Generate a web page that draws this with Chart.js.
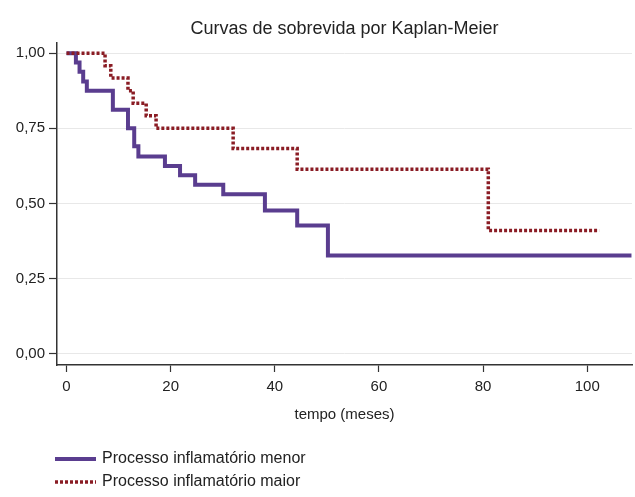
<!DOCTYPE html>
<html>
<head>
<meta charset="utf-8">
<script src="https://cdn.jsdelivr.net/npm/chart.js@4"></script>
<style>
  html, body { margin: 0; padding: 0; background: #fff; }
  #c { display: block; }
</style>
</head>
<body>
<canvas id="c" width="635" height="497"></canvas>
<script>
// ---- Data ----
const seriesLabels = ['Processo inflamatório menor', 'Processo inflamatório maior'];
const menorTimes = [0, 1.8, 2.5, 3.2, 3.9, 8.9, 11.8, 13.0, 13.8, 18.9, 21.8, 24.7, 30.1, 38.1, 44.3, 50.2, 108.5];
const menorSurv  = [1.0, 0.969, 0.938, 0.906, 0.875, 0.812, 0.75, 0.69, 0.656, 0.625, 0.594, 0.562, 0.531, 0.477, 0.427, 0.327, 0.327];
const maiorTimes = [0, 7.4, 8.5, 11.8, 12.8, 15.3, 17.2, 32.0, 44.3, 81.0, 102.3];
const maiorSurv  = [1.0, 0.958, 0.917, 0.875, 0.833, 0.792, 0.75, 0.683, 0.614, 0.41, 0.41];
const xTickValues = [0, 20, 40, 60, 80, 100];
const yTickValues = [0, 0.25, 0.5, 0.75, 1.0];
const chartTitle = 'Curvas de sobrevida por Kaplan-Meier';
const xAxisTitle = 'tempo (meses)';

const toPoints = (xs, ys) => xs.map((x, i) => ({ x: x, y: ys[i] }));
const FONT = "'Liberation Sans', Arial, Helvetica, sans-serif";
const fmt = v => v.toFixed(2).replace('.', ',');

const customLegend = {
  id: 'customLegend',
  afterDraw(chart) {
    const ctx = chart.ctx;
    const rows = [459, 482];
    chart.data.datasets.forEach((ds, i) => {
      const y = rows[i];
      ctx.save();
      ctx.strokeStyle = ds.borderColor;
      ctx.lineWidth = ds.borderWidth;
      ctx.setLineDash(ds.borderDash || []);
      ctx.beginPath();
      ctx.moveTo(55, y);
      ctx.lineTo(96, y);
      ctx.stroke();
      ctx.setLineDash([]);
      ctx.fillStyle = '#222';
      ctx.font = '16px ' + FONT;
      ctx.textBaseline = 'middle';
      ctx.textAlign = 'left';
      ctx.fillText(ds.label, 102, y);
      ctx.restore();
    });
  }
};

new Chart(document.getElementById('c'), {
  type: 'line',
  data: {
    datasets: [
      {
        label: seriesLabels[0],
        data: toPoints(menorTimes, menorSurv),
        stepped: 'before',
        borderColor: '#5a3d8f',
        borderWidth: 4,
        pointRadius: 0,
        fill: false,
        order: 1
      },
      {
        label: seriesLabels[1],
        data: toPoints(maiorTimes, maiorSurv),
        stepped: 'before',
        borderColor: '#8a1c24',
        borderWidth: 3.5,
        borderDash: [3, 2],
        pointRadius: 0,
        fill: false,
        order: 0
      }
    ]
  },
  options: {
    responsive: false,
    animation: false,
    layout: { padding: { left: 0, right: 3, top: 0, bottom: 70 } },
    plugins: {
      legend: { display: false },
      tooltip: { enabled: false },
      title: {
        display: true,
        text: chartTitle,
        fullSize: false,
        color: '#222',
        font: { family: FONT, size: 18, weight: 'normal' },
        padding: { top: 18, bottom: 3 }
      }
    },
    scales: {
      x: {
        type: 'linear',
        min: -1.83,
        max: 108.6,
        afterBuildTicks: s => { s.ticks = xTickValues.map(v => ({ value: v })); },
        afterFit: s => { s.height = 62; },
        grid: { drawOnChartArea: false, drawTicks: true, tickLength: 7, tickColor: '#333', tickWidth: 1.2 },
        border: { display: true, color: '#333', width: 1.5 },
        ticks: { color: '#222', font: { family: FONT, size: 15 }, padding: 6, maxRotation: 0 },
        title: { display: true, text: xAxisTitle, color: '#222', font: { family: FONT, size: 15 }, padding: { top: 4, bottom: 3 } }
      },
      y: {
        type: 'linear',
        min: -0.037,
        max: 1.035,
        afterBuildTicks: s => { s.ticks = yTickValues.map(v => ({ value: v })); },
        afterFit: s => { s.width = 57; },
        grid: { drawOnChartArea: true, color: '#e8e8e8', lineWidth: 1, drawTicks: true, tickLength: 8, tickColor: '#333', tickWidth: 1.2 },
        border: { display: true, color: '#333', width: 1.5 },
        ticks: { color: '#222', font: { family: FONT, size: 15 }, padding: 4, callback: v => fmt(v) }
      }
    }
  },
  plugins: [customLegend]
});
</script>
</body>
</html>
